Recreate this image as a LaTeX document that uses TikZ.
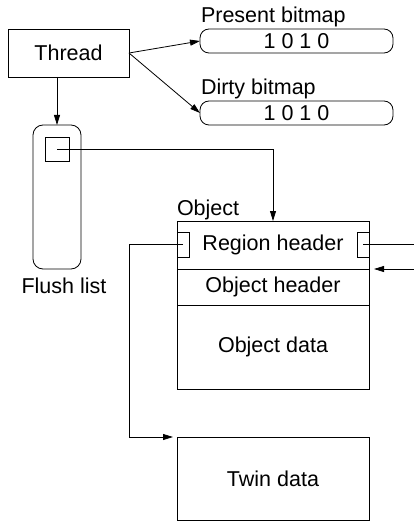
\documentclass[tikz,border=0pt]{standalone}
\usepackage{fontspec}
\setmainfont{Liberation Sans}
\usetikzlibrary{arrows.meta}
\begin{document}
\begin{tikzpicture}[x=1pt,y=-1pt,
  every node/.style={font=\fontsize{21.5}{24}\selectfont, inner sep=0pt, outer sep=0pt},
  box/.style={draw, line width=0.8pt, minimum width=#1},
  conn/.style={line width=0.8pt},
  arr/.style={conn, -{Triangle[length=10pt,width=6pt]}},
  lbl/.style={anchor=base west}
]
\useasboundingbox (0,0) rectangle (414,521);
% nodes
\node[box=121pt, minimum height=48pt] (thread) at (68.5,53) {Thread};
\node[box=193pt, minimum height=24pt, rounded corners=9pt] (present) at (296.5,41) {1 0 1 0};
\node[box=193pt, minimum height=24pt, rounded corners=9pt] (dirty) at (296.5,113) {1 0 1 0};
\node[lbl] (plabel) at (201,23) {Present bitmap};
\node[lbl] (dlabel) at (201,95) {Dirty bitmap};
\node[box=48pt, minimum height=144pt, rounded corners=10pt] (flush) at (57,197) {};
\node[box=24pt, minimum height=24pt] (sq) at (57,149) {};
\node (flabel) at (64,286) {Flush list};
\node[lbl] (olabel) at (177,215) {Object};
\node[box=192pt, minimum height=48pt] (region) at (273,245) {Region header};
\node[box=192pt, minimum height=36pt] (ohead) at (273,287) {Object header};
\node[box=192pt, minimum height=84pt] (odata) at (273,347) {Object data};
\node[box=12pt, minimum height=25pt] (lrect) at (183,244.5) {};
\node[box=12pt, minimum height=25pt] (rrect) at (363,244.5) {};
\node[box=192pt, minimum height=83pt] (twin) at (273,478.5) {Twin data};
\coordinate (lbend) at (129,437);
\coordinate (redge) at (414,244.5);
\coordinate (rin) at (414,269);
% connectors
\draw[arr] (thread.east) -- (present.west);
\draw[arr] (thread.east) -- (dirty.west);
\draw[arr] (flush.north |- thread.south) -- (flush.north);
\draw[arr] (sq.center) -| (region.north);
\draw[arr, shorten >=4pt] (lrect.center) -- (lrect.center -| lbend) -- (lbend) -- (twin.north west);
\draw[conn] (rrect.center) -- (redge);
\draw[arr, shorten >=5pt] (rin) -- (region.south east);
\end{tikzpicture}
\end{document}
